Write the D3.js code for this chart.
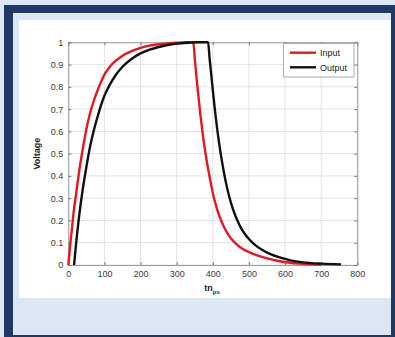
<!DOCTYPE html>
<html><head><meta charset="utf-8">
<script src="https://cdn.jsdelivr.net/npm/d3@7"></script>
<style>html,body{margin:0;padding:0;background:#dde7f3;}svg{display:block;}</style>
</head><body>
<svg id="c" width="395" height="337"></svg>
<script>
// Data (time in ps, voltage)
const inputT = [0,3,6,10,15,20,25,30,40,50,60,70,80,90,100,115,130,150,175,200,225,250,275,300,325,346,
  350,355,360,366,372,378,385,393,402,412,423,436,450,466,483,503,525,550,586,640,700];
const inputV = [0,0.05,0.1,0.16,0.24,0.3,0.36,0.42,0.52,0.61,0.68,0.735,0.78,0.82,0.855,0.89,0.915,0.94,0.96,0.975,0.985,0.991,0.995,0.998,1,1,
  0.93,0.84,0.76,0.67,0.59,0.52,0.45,0.38,0.31,0.25,0.2,0.155,0.12,0.093,0.072,0.056,0.042,0.03,0.017,0.006,0.001];
const outputT = [16,20,25,30,40,50,60,70,80,90,100,115,130,150,175,200,225,250,275,300,330,360,387,
  391,396,401,407,413,420,427,435,445,456,468,482,498,515,535,558,585,615,650,700,755];
const outputV = [0,0.07,0.15,0.22,0.34,0.44,0.53,0.6,0.66,0.715,0.76,0.81,0.85,0.89,0.925,0.95,0.967,0.979,0.988,0.994,0.998,1,1,
  0.93,0.85,0.77,0.68,0.6,0.52,0.45,0.38,0.31,0.25,0.2,0.155,0.12,0.093,0.07,0.05,0.034,0.021,0.012,0.006,0.003];
const xTicks = [0,100,200,300,400,500,600,700,800];
const yTicks = [0,0.1,0.2,0.3,0.4,0.5,0.6,0.7,0.8,0.9,1];
const seriesNames = ["Input","Output"];
const seriesColors = ["#e3191f","#111111"];

const svg = d3.select("#c");
// frame
svg.append("rect").attr("x",4).attr("y",5).attr("width",391).attr("height",332).attr("fill","#1f3864");
svg.append("rect").attr("x",13).attr("y",13).attr("width",378).attr("height",322).attr("fill","#dde7f3");
svg.append("rect").attr("x",19).attr("y",20).attr("width",372).attr("height",278).attr("fill","#ffffff");

const L=68.3,R=357.3,T=42.3,B=265;
const x = d3.scaleLinear().domain([0,800]).range([L,R]);
const y = d3.scaleLinear().domain([0,1]).range([B,T]);

const g = svg.append("g");
// grid
g.selectAll(".gx").data(xTicks).join("line").attr("x1",d=>x(d)).attr("x2",d=>x(d)).attr("y1",T).attr("y2",B).attr("stroke","#e2e2e2").attr("stroke-width",1);
g.selectAll(".gy").data(yTicks).join("line").attr("y1",d=>y(d)).attr("y2",d=>y(d)).attr("x1",L).attr("x2",R).attr("stroke","#e2e2e2").attr("stroke-width",1);

// axes with inward ticks
const fontF = "'Liberation Sans', Arial, sans-serif";
const ax = g.append("g").attr("transform",`translate(0,${B})`).call(d3.axisBottom(x).tickValues(xTicks).tickSize(-3).tickPadding(6).tickFormat(d3.format("d")));
const axT = g.append("g").attr("transform",`translate(0,${T})`).call(d3.axisTop(x).tickValues(xTicks).tickSize(-3).tickFormat(""));
const ay = g.append("g").attr("transform",`translate(${L},0)`).call(d3.axisLeft(y).tickValues(yTicks).tickSize(-3).tickPadding(5).tickFormat(d=>d===0||d===1?d3.format("d")(d):d3.format(".1f")(d)));
const ayR = g.append("g").attr("transform",`translate(${R},0)`).call(d3.axisRight(y).tickValues(yTicks).tickSize(-3).tickFormat(""));
[ax,axT,ay,ayR].forEach(a=>{
  a.select(".domain").attr("stroke","#9a9a9a");
  a.selectAll(".tick line").attr("stroke","#777");
  a.selectAll("text").attr("font-family",fontF).attr("font-size",9).attr("fill","#3a3a3a");
});

// lines
const line = d3.line().x(d=>x(d[0])).y(d=>y(d[1])).curve(d3.curveMonotoneX);
const series = [d3.zip(inputT,inputV), d3.zip(outputT,outputV)];
series.forEach((s,i)=>{
  g.append("path").datum(s).attr("d",line).attr("fill","none").attr("stroke",seriesColors[i]).attr("stroke-width",2.4).attr("stroke-linejoin","round");
});

// labels
svg.append("text").attr("transform",`translate(40,${(T+B)/2}) rotate(-90)`).attr("text-anchor","middle")
  .attr("font-family",fontF).attr("font-size",9).attr("font-weight","bold").attr("fill","#222").text("Voltage");
const xl = svg.append("text").attr("x",212).attr("y",291).attr("text-anchor","middle").attr("font-family",fontF).attr("font-weight","bold").attr("fill","#222");
xl.append("tspan").attr("font-size",9).text("tn");
xl.append("tspan").attr("font-size",6).attr("dy",3).text("ps");

// legend
const lg = svg.append("g");
lg.append("rect").attr("x",283.5).attr("y",43.5).attr("width",70.5).attr("height",33.5).attr("fill","#fff").attr("stroke","#aaa").attr("stroke-width",1);
seriesNames.forEach((n,i)=>{
  const yy = 52.7 + i*14.6;
  lg.append("line").attr("x1",290).attr("x2",316).attr("y1",yy).attr("y2",yy).attr("stroke",seriesColors[i]).attr("stroke-width",2.4);
  lg.append("text").attr("x",320).attr("y",yy+3.2).attr("font-family",fontF).attr("font-size",9).attr("fill","#222").text(n);
});
</script>
</body></html>
